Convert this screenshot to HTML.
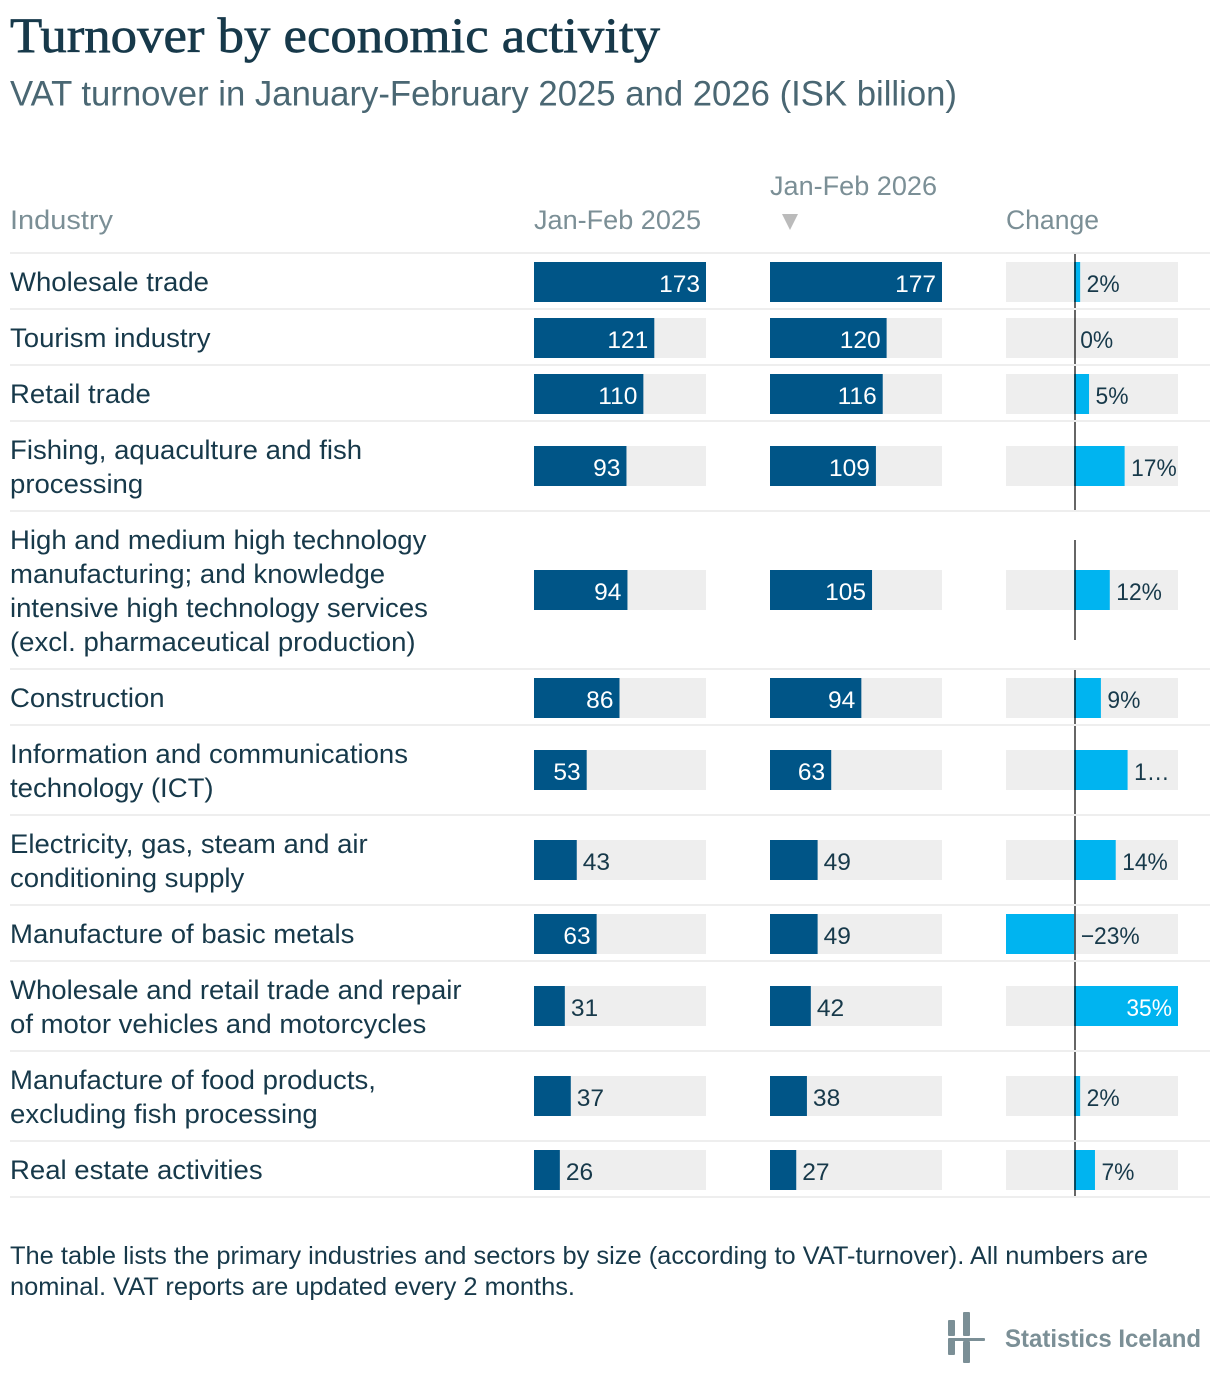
<!DOCTYPE html>
<html lang="en">
<head>
<meta charset="utf-8">
<title>Turnover by economic activity</title>
<style>
html,body{margin:0;padding:0;background:#fff;width:1220px;height:1388px;overflow:hidden}
svg{display:block;font-family:"Liberation Sans",sans-serif}
</style>
</head>
<body>
<svg id="chart" xmlns="http://www.w3.org/2000/svg" width="1220" height="1388" viewBox="0 0 1220 1388">
  <text x="10" y="52" font-family="'Liberation Serif',serif" font-size="50" fill="#17394a" stroke="#17394a" stroke-width="0.7" textLength="650" lengthAdjust="spacingAndGlyphs">Turnover by economic activity</text>
  <text x="10" y="105.5" font-size="35" fill="#4a6773" textLength="947" lengthAdjust="spacingAndGlyphs">VAT turnover in January-February 2025 and 2026 (ISK billion)</text>
  <text x="10" y="229" font-size="27" fill="#7b8f96" textLength="103" lengthAdjust="spacingAndGlyphs">Industry</text>
  <text x="534" y="229" font-size="27" fill="#7b8f96" textLength="167" lengthAdjust="spacingAndGlyphs">Jan-Feb 2025</text>
  <text x="770" y="195" font-size="27" fill="#7b8f96" textLength="167" lengthAdjust="spacingAndGlyphs">Jan-Feb 2026</text>
  <path d="M782 214H798L790 230Z" fill="#bbbbbb"/>
  <text x="1006" y="229" font-size="27" fill="#7b8f96" textLength="93" lengthAdjust="spacingAndGlyphs">Change</text>
  <g id="rows"></g>
  <g font-size="25" fill="#17394a">
    <text x="10" y="1264" textLength="1138" lengthAdjust="spacingAndGlyphs">The table lists the primary industries and sectors by size (according to VAT-turnover). All numbers are</text>
    <text x="10" y="1295" textLength="565" lengthAdjust="spacingAndGlyphs">nominal. VAT reports are updated every 2 months.</text>
  </g>
  <g fill="#7b8f96">
    <rect x="948" y="1320" width="7" height="16" rx="1"/>
    <rect x="948" y="1339" width="7" height="16" rx="1"/>
    <rect x="963" y="1312" width="7" height="24" rx="1"/>
    <rect x="963" y="1341" width="7" height="22" rx="1"/>
    <rect x="948" y="1338" width="37" height="3" rx="1"/>
    <text x="1005" y="1347" font-size="25" font-weight="bold" textLength="196" lengthAdjust="spacingAndGlyphs">Statistics Iceland</text>
  </g>
</svg>
<script>
var categories = [
  ["Wholesale trade"],
  ["Tourism industry"],
  ["Retail trade"],
  ["Fishing, aquaculture and fish", "processing"],
  ["High and medium high technology", "manufacturing; and knowledge", "intensive high technology services", "(excl. pharmaceutical production)"],
  ["Construction"],
  ["Information and communications", "technology (ICT)"],
  ["Electricity, gas, steam and air", "conditioning supply"],
  ["Manufacture of basic metals"],
  ["Wholesale and retail trade and repair", "of motor vehicles and motorcycles"],
  ["Manufacture of food products,", "excluding fish processing"],
  ["Real estate activities"]
];
var values2025 = [173, 121, 110, 93, 94, 86, 53, 43, 63, 31, 37, 26];
var values2026 = [177, 120, 116, 109, 105, 94, 63, 49, 49, 42, 38, 27];
var changeValues = [2, 0, 5, 17, 12, 9, 18, 14, -23, 35, 2, 7];
var changeLabels = ["2%", "0%", "5%", "17%", "12%", "9%", "1\u2026", "14%", "\u221223%", "35%", "2%", "7%"];

var NS = "http://www.w3.org/2000/svg";
var rowsGroup = document.getElementById("rows");
var TRACK_W = 172;
var max2025 = Math.max.apply(null, values2025);
var max2026 = Math.max.apply(null, values2026);
var minChange = Math.min.apply(null, changeValues);
var maxChange = Math.max.apply(null, changeValues);
var changeLeft = 1006;
var changeUnit = TRACK_W / (maxChange - minChange);
function x2025(v) { return v / max2025 * TRACK_W; }
function x2026(v) { return v / max2026 * TRACK_W; }
function xChange(v) { return changeLeft + (v - minChange) * changeUnit; }

function make(tag, attrs, parent) {
  var el = document.createElementNS(NS, tag);
  for (var k in attrs) el.setAttribute(k, attrs[k]);
  parent.appendChild(el);
  return el;
}
function fit(t, factor) {
  var w = t.getComputedTextLength();
  t.setAttribute("textLength", (w * factor).toFixed(1));
  t.setAttribute("lengthAdjust", "spacingAndGlyphs");
}
function drawValueBar(g, left, width, value) {
  var track = make("rect", {x: left, y: g.barTop, width: TRACK_W, height: 40, fill: "#eeeeee"}, g);
  
  
  var bar = make("rect", {x: left, y: g.barTop, width: width, height: 40, fill: "#005587"}, g);
  
  
  var inside = width >= 50;
  var label = make("text", {
    x: inside ? left + width - 6 : left + width + 6,
    y: g.barTop + 30,
    "font-size": 24.5,
    "text-anchor": inside ? "end" : "start",
    fill: inside ? "#ffffff" : "#17394a"
  }, g);
  label.textContent = String(value);
  
  
  fit(label, 1.0);
}

var sepY = 252.3;
categories.forEach(function (lines, i) {
  var n = lines.length;
  var h = 22 + 34 * n;
  var g = make("g", {}, rowsGroup);
  
  
  var sepTop = Math.round(sepY);
  var sep = make("rect", {x: 10, y: sepTop, width: 1200, height: 2, fill: "#eeeeee"}, g);
  
  

  lines.forEach(function (line, j) {
    var t = make("text", {x: 10, y: Math.round(sepY + 38.7 + 34 * j), "font-size": 27, fill: "#17394a"}, g);
    t.textContent = line;
    
    
    fit(t, 1.02);
  });

  g.barTop = Math.round(sepY + (h - 40) / 2 + (n === 1 ? 1.7 : 0.7));
  drawValueBar(g, 534, x2025(values2025[i]), values2025[i]);
  drawValueBar(g, 770, x2026(values2026[i]), values2026[i]);

  var track = make("rect", {x: changeLeft, y: g.barTop, width: TRACK_W, height: 40, fill: "#eeeeee"}, g);
  
  
  var zero = xChange(0);
  var end = xChange(changeValues[i]);
  var cbar = make("rect", {x: Math.min(zero, end), y: g.barTop, width: Math.abs(end - zero), height: 40, fill: "#00b4f0"}, g);
  
  

  var lineH = Math.min(100, h - 2);
  var lineTop = sepTop + 2 + (h - 2 - lineH) / 2;
  var zeroLine = make("rect", {x: Math.round(zero), y: lineTop, width: 2, height: lineH, fill: "#000000", "fill-opacity": 0.6}, g);
  
  

  var inside = end - zero >= 90;
  var base = Math.max(zero, end);
  var cl = make("text", {
    x: inside ? end - 6 : base + (changeValues[i] === 0 ? 6 : 6.5),
    y: g.barTop + 30,
    "font-size": 24,
    "text-anchor": inside ? "end" : "start",
    fill: inside ? "#ffffff" : "#17394a"
  }, g);
  cl.textContent = changeLabels[i];
  
  
  fit(cl, 0.95);

  sepY += h;
});
var lastSep = make("rect", {x: 10, y: Math.round(sepY), width: 1200, height: 2, fill: "#eeeeee"}, rowsGroup);


</script>
</body>
</html>
